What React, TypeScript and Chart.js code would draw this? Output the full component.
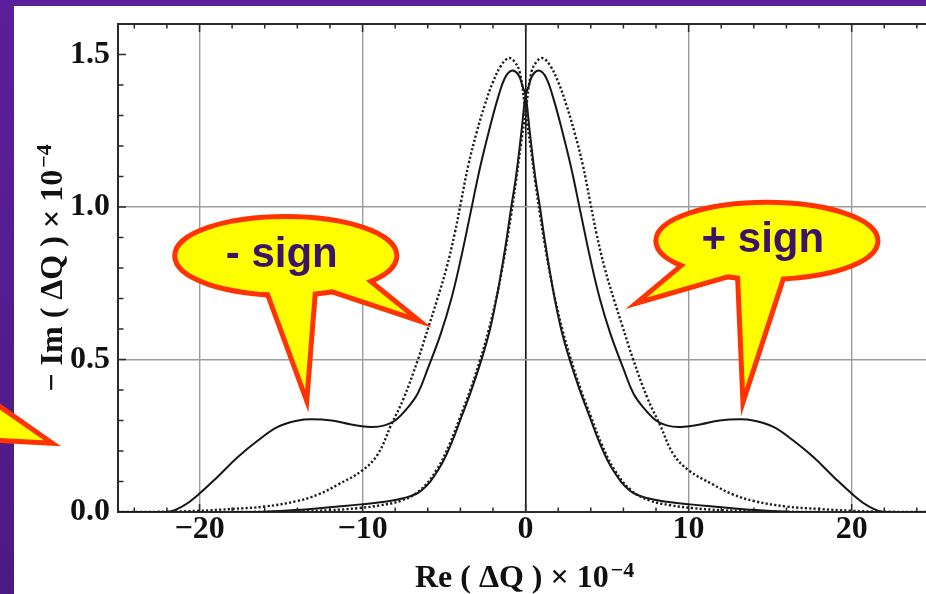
import React, { useEffect, useRef } from "react";
import { Chart, registerables } from "chart.js";

Chart.register(...registerables);

// ---------- axis ticks & titles ----------
const X_TICKS = [-20, -10, 0, 10, 20];
const X_TICK_LABELS = ["\u221220", "\u221210", "0", "10", "20"];
const Y_TICKS = [0, 0.5, 1.0, 1.5];
const Y_TICK_LABELS = ["0.0", "0.5", "1.0", "1.5"];
const X_TITLE = "Re ( \u0394Q ) \u00d7 10";
const Y_TITLE = "\u2212 Im ( \u0394Q ) \u00d7 10";
const EXPONENT = "\u22124";

// ---------- curves ----------
// solid curve of the "- sign" case
const MINUS_SOLID_X = [-25, -22.0, -21.0, -20.1, -18.9, -17.65, -16.4, -15.2, -13.95, -13.15, -11.9, -10.7, -9.5, -8.65, -8.0, -7.2, -6.6, -6.0, -5.2, -4.55, -3.95, -3.4, -2.8, -2.2, -1.7, -1.27, -0.86, -0.45, -0.15, 0.0, 0.25, 0.57, 0.88, 1.15, 1.45, 1.75, 2.2, 2.72, 3.33, 3.94, 4.56, 5.37, 6.4, 7.5, 8.8, 10.1, 11.5, 13.0, 14.6, 16.2, 18.0];
const MINUS_SOLID_Y = [0, 0.0, 0.02, 0.056, 0.115, 0.18, 0.235, 0.279, 0.3, 0.304, 0.3, 0.287, 0.279, 0.284, 0.3, 0.344, 0.39, 0.47, 0.585, 0.7, 0.835, 0.975, 1.128, 1.259, 1.357, 1.423, 1.447, 1.434, 1.39, 1.368, 1.25, 1.107, 1.0, 0.9, 0.8, 0.71, 0.595, 0.497, 0.399, 0.311, 0.224, 0.137, 0.07, 0.045, 0.033, 0.025, 0.018, 0.011, 0.005, 0, 0];

// solid curve of the "+ sign" case
const PLUS_SOLID_X = [-18.0, -16.2, -14.6, -13.0, -11.5, -10.1, -8.8, -7.5, -6.4, -5.37, -4.56, -3.94, -3.33, -2.72, -2.2, -1.75, -1.45, -1.15, -0.88, -0.57, -0.25, 0.0, 0.15, 0.45, 0.86, 1.27, 1.7, 2.2, 2.8, 3.4, 3.95, 4.55, 5.2, 6.0, 6.6, 7.2, 8.0, 8.65, 9.5, 10.7, 11.9, 13.15, 13.95, 15.2, 16.4, 17.65, 18.9, 20.1, 21.0, 22.0, 25];
const PLUS_SOLID_Y = [0, 0, 0.005, 0.011, 0.018, 0.025, 0.033, 0.045, 0.07, 0.137, 0.224, 0.311, 0.399, 0.497, 0.595, 0.71, 0.8, 0.9, 1.0, 1.107, 1.25, 1.368, 1.39, 1.434, 1.447, 1.423, 1.357, 1.259, 1.128, 0.975, 0.835, 0.7, 0.585, 0.47, 0.39, 0.344, 0.3, 0.284, 0.279, 0.287, 0.3, 0.304, 0.3, 0.279, 0.235, 0.18, 0.115, 0.056, 0.02, 0, 0];

// dotted curve, left-peaked
const MINUS_DOTTED_X = [-25, -22, -20, -18, -16, -14, -12.7, -11.5, -10.0, -9.06, -8.25, -7.5, -6.6, -5.93, -5.46, -4.85, -4.34, -3.95, -3.5, -3.0, -2.5, -2.0, -1.5, -1.05, -0.7, -0.35, 0.0, 0.3, 0.6, 0.9, 1.2, 1.5, 1.8, 2.27, 2.8, 3.4, 4.02, 4.65, 5.47, 6.5, 7.6, 8.9, 10.2, 12.0, 14.0, 16.0, 18.0];
const MINUS_DOTTED_Y = [0, 0.001, 0.004, 0.01, 0.018, 0.036, 0.058, 0.09, 0.137, 0.19, 0.285, 0.37, 0.5, 0.611, 0.69, 0.8, 0.915, 1.02, 1.14, 1.245, 1.335, 1.41, 1.464, 1.488, 1.478, 1.44, 1.31, 1.2, 1.08, 0.97, 0.87, 0.78, 0.7, 0.595, 0.497, 0.399, 0.311, 0.224, 0.137, 0.07, 0.038, 0.022, 0.013, 0.006, 0.003, 0.001, 0];

// dotted curve, right-peaked
const PLUS_DOTTED_X = [-18, -16, -14, -12, -10.2, -8.9, -7.6, -6.5, -5.47, -4.65, -4.02, -3.4, -2.8, -2.27, -1.8, -1.5, -1.2, -0.9, -0.6, -0.3, 0, 0.35, 0.7, 1.05, 1.5, 2.0, 2.5, 3.0, 3.5, 3.95, 4.34, 4.85, 5.46, 5.93, 6.6, 7.5, 8.25, 9.06, 10.0, 11.5, 12.7, 14, 16, 18, 20, 22, 25];
const PLUS_DOTTED_Y = [0, 0.001, 0.003, 0.006, 0.013, 0.022, 0.038, 0.07, 0.137, 0.224, 0.311, 0.399, 0.497, 0.595, 0.7, 0.78, 0.87, 0.97, 1.08, 1.2, 1.31, 1.44, 1.478, 1.488, 1.464, 1.41, 1.335, 1.245, 1.14, 1.02, 0.915, 0.8, 0.69, 0.611, 0.5, 0.37, 0.285, 0.19, 0.137, 0.09, 0.058, 0.036, 0.018, 0.01, 0.004, 0.001, 0];

// ---------- callout texts ----------
const CALLOUT_TEXTS = ["- sign", "+ sign"];

// callout geometry, expressed in data units (anchored through the scales)
type Pt = [number, number];
interface Callout {
  text?: string;
  ellipse?: { cx: number; cy: number; rx: number; ry: number };
  pointers: Pt[][];
}
const CALLOUTS: Callout[] = [
  {
    text: CALLOUT_TEXTS[0],
    ellipse: { cx: -14.71, cy: 0.84, rx: 6.66, ry: 0.121 },
    pointers: [
      [[-16.04, 0.768], [-12.98, 0.768], [-13.52, 0.402]],
      [[-12.68, 0.745], [-10.47, 0.788], [-7.25, 0.648]],
    ],
  },
  {
    text: CALLOUT_TEXTS[1],
    ellipse: { cx: 14.8, cy: 0.889, rx: 6.66, ry: 0.118 },
    pointers: [
      [[13.12, 0.817], [15.97, 0.817], [13.45, 0.405]],
      [[10.28, 0.83], [12.67, 0.784], [7.44, 0.703]],
    ],
  },
  {
    pointers: [[[-33.48, 0.382], [-33.48, 0.246], [-29.55, 0.235]]],
  },
];

const zip = (xs: number[], ys: number[]) => xs.map((x, i) => ({ x, y: ys[i] }));

const SERIF = '"Liberation Serif", "Times New Roman", serif';
const SANS = '"Liberation Sans", Arial, sans-serif';

const backgroundPlugin = {
  id: "slideBackground",
  beforeDraw(chart: any) {
    const { ctx, width, height } = chart;
    ctx.save();
    const g = ctx.createLinearGradient(0, 0, 0, height);
    g.addColorStop(0, "#5b1f9c");
    g.addColorStop(1, "#4c1a84");
    ctx.fillStyle = g;
    ctx.fillRect(0, 0, width, height);
    ctx.fillStyle = "#ffffff";
    ctx.fillRect(14, 6, width - 14, height - 6);
    ctx.restore();
  },
};

const framePlugin = {
  id: "mathFrame",
  beforeDatasetsDraw(chart: any) {
    const { ctx, chartArea: a, scales } = chart;
    const xs = scales.x;
    const ys = scales.y;
    ctx.save();
    ctx.strokeStyle = "#2a2a2a";
    ctx.lineWidth = 2;
    ctx.beginPath();
    ctx.moveTo(a.left, a.top);
    ctx.lineTo(a.right, a.top);
    ctx.stroke();
    ctx.lineWidth = 1.5;
    for (let v = -24; v <= 24; v += 2) {
      const px = xs.getPixelForValue(v);
      const len = v % 10 === 0 ? 8 : 4.5;
      ctx.beginPath();
      ctx.moveTo(px, a.bottom);
      ctx.lineTo(px, a.bottom - len);
      ctx.moveTo(px, a.top);
      ctx.lineTo(px, a.top + len);
      ctx.stroke();
    }
    for (let i = 0; i <= 16; i++) {
      const py = ys.getPixelForValue(i / 10);
      const len = i % 5 === 0 ? 8 : 5.5;
      ctx.beginPath();
      ctx.moveTo(a.left, py);
      ctx.lineTo(a.left + len, py);
      ctx.stroke();
    }
    ctx.restore();
  },
  afterDraw(chart: any) {
    const { ctx, chartArea: a, scales } = chart;
    const xs = scales.x;
    ctx.save();
    ctx.fillStyle = "#111";
    ctx.textBaseline = "alphabetic";
    const main = `bold 32px ${SERIF}`;
    const sup = `bold 22px ${SERIF}`;
    // x title
    ctx.font = main;
    const w1 = ctx.measureText(X_TITLE).width;
    ctx.font = sup;
    const w2 = ctx.measureText(EXPONENT).width;
    const cx = xs.getPixelForValue(0) - 1;
    const x0 = cx - (w1 + w2 + 2) / 2;
    ctx.textAlign = "left";
    ctx.font = main;
    ctx.fillText(X_TITLE, x0, 587);
    ctx.font = sup;
    ctx.fillText(EXPONENT, x0 + w1 + 2, 577);
    // y title
    ctx.font = main;
    const v1 = ctx.measureText(Y_TITLE).width;
    ctx.font = sup;
    const v2 = ctx.measureText(EXPONENT).width;
    ctx.translate(62, (a.top + a.bottom) / 2);
    ctx.rotate(-Math.PI / 2);
    const y0 = -(v1 + v2 + 2) / 2;
    ctx.font = main;
    ctx.fillText(Y_TITLE, y0, 0);
    ctx.font = sup;
    ctx.fillText(EXPONENT, y0 + v1 + 2, -11);
    ctx.restore();
  },
};

const calloutPlugin = {
  id: "callouts",
  afterDraw(chart: any) {
    const { ctx, scales } = chart;
    const xs = scales.x;
    const ys = scales.y;
    const P = (p: Pt) => [xs.getPixelForValue(p[0]), ys.getPixelForValue(p[1])];
    const ellipsePath = (c: Callout) => {
      const e = c.ellipse!;
      const cx = xs.getPixelForValue(e.cx);
      const cy = ys.getPixelForValue(e.cy);
      const rx = Math.abs(xs.getPixelForValue(e.cx + e.rx) - cx);
      const ry = Math.abs(ys.getPixelForValue(e.cy + e.ry) - cy);
      ctx.beginPath();
      ctx.ellipse(cx, cy, rx, ry, 0, 0, Math.PI * 2);
    };
    const triPath = (tri: Pt[]) => {
      ctx.beginPath();
      tri.forEach((p, i) => {
        const [x, y] = P(p);
        if (i === 0) ctx.moveTo(x, y);
        else ctx.lineTo(x, y);
      });
      ctx.closePath();
    };
    ctx.save();
    for (const c of CALLOUTS) {
      ctx.strokeStyle = "#ff3300";
      ctx.lineWidth = 10;
      ctx.lineJoin = "miter";
      ctx.miterLimit = 10;
      if (c.ellipse) {
        ellipsePath(c);
        ctx.stroke();
      }
      for (const t of c.pointers) {
        triPath(t);
        ctx.stroke();
      }
      ctx.fillStyle = "#ffff00";
      if (c.ellipse) {
        ellipsePath(c);
        ctx.fill();
      }
      for (const t of c.pointers) {
        triPath(t);
        ctx.fill();
      }
      if (c.text && c.ellipse) {
        const [tx, ty] = P([c.ellipse.cx, c.ellipse.cy]);
        ctx.fillStyle = "#3b1468";
        ctx.font = `bold 42px ${SANS}`;
        ctx.textAlign = "center";
        ctx.textBaseline = "alphabetic";
        ctx.fillText(c.text, tx - 4, ty + 11);
      }
    }
    ctx.restore();
  },
};

export default function App() {
  const ref = useRef<HTMLCanvasElement>(null);

  useEffect(() => {
    const canvas = ref.current;
    if (!canvas) return;
    const solid = { borderColor: "#161616", borderWidth: 2 };
    const dotted = { borderColor: "#1e1e1e", borderWidth: 2.4, borderDash: [2.2, 2.2], borderCapStyle: "butt" };
    const common = { showLine: true, pointRadius: 0, fill: false, tension: 0.4 };
    const chart = new Chart(canvas, {
      type: "scatter",
      data: {
        datasets: [
          { label: "dotted -", data: zip(MINUS_DOTTED_X, MINUS_DOTTED_Y), ...common, ...dotted },
          { label: "dotted +", data: zip(PLUS_DOTTED_X, PLUS_DOTTED_Y), ...common, ...dotted },
          { label: "solid -", data: zip(MINUS_SOLID_X, MINUS_SOLID_Y), ...common, ...solid },
          { label: "solid +", data: zip(PLUS_SOLID_X, PLUS_SOLID_Y), ...common, ...solid },
        ] as any,
      },
      options: {
        animation: false,
        responsive: false,
        events: [],
        layout: { padding: { top: 22, left: 0, right: 0, bottom: 0 } },
        plugins: {
          legend: { display: false },
          tooltip: { enabled: false },
        },
        scales: {
          x: {
            type: "linear",
            min: -25,
            max: 24.56,
            afterFit: (s: any) => {
              s.height = 82;
            },
            afterBuildTicks: (s: any) => {
              s.ticks = X_TICKS.map((v) => ({ value: v }));
            },
            ticks: {
              autoSkip: false,
              maxRotation: 0,
              padding: 2,
              color: "#111",
              font: { family: SERIF, size: 32, weight: "bold", lineHeight: 1 },
              callback: (v: any) => X_TICK_LABELS[X_TICKS.indexOf(Number(v))],
            },
            grid: {
              drawTicks: false,
              color: (c: any) => (c.tick && c.tick.value === 0 ? "#111" : "#9c9c9c"),
              lineWidth: (c: any) => (c.tick && c.tick.value === 0 ? 1.6 : 1.4),
            },
            border: { display: true, color: "#2a2a2a", width: 2 },
          },
          y: {
            type: "linear",
            min: 0,
            max: 1.6,
            afterFit: (s: any) => {
              s.width = 118;
            },
            afterBuildTicks: (s: any) => {
              s.ticks = Y_TICKS.map((v) => ({ value: v }));
            },
            ticks: {
              autoSkip: false,
              padding: 8,
              color: "#111",
              font: { family: SERIF, size: 32, weight: "bold", lineHeight: 1 },
              callback: (v: any) => Y_TICK_LABELS[Y_TICKS.indexOf(Number(v))],
            },
            grid: {
              drawTicks: false,
              color: (c: any) =>
                c.tick && (c.tick.value === 0.5 || c.tick.value === 1) ? "#9c9c9c" : "rgba(0,0,0,0)",
              lineWidth: 1.4,
            },
            border: { display: true, color: "#2a2a2a", width: 2 },
          },
        },
      } as any,
      plugins: [backgroundPlugin, framePlugin, calloutPlugin],
    });
    return () => chart.destroy();
  }, []);

  return (
    <div style={{ position: "fixed", left: 0, top: 0, width: 926, height: 594 }}>
      <canvas ref={ref} width={926} height={594} style={{ display: "block", width: 926, height: 594 }} />
    </div>
  );
}
